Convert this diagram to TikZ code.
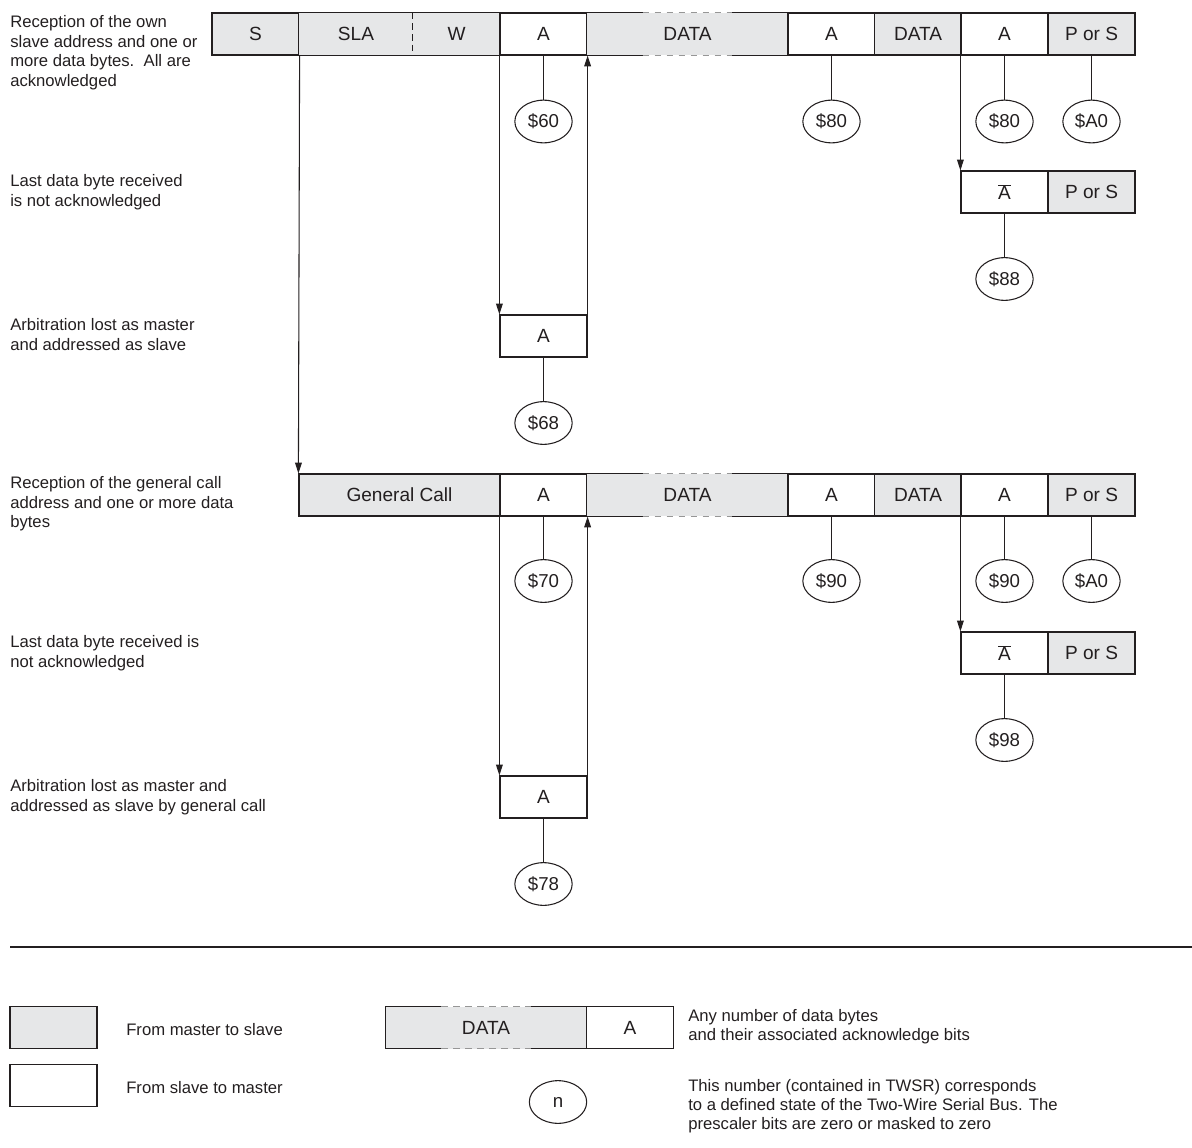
\documentclass[tikz,border=0pt]{standalone}
\usepackage{fontspec}
\setmainfont{Liberation Sans}
\usetikzlibrary{shapes.geometric,arrows.meta}
\definecolor{cellgray}{RGB}{230,231,232}
\definecolor{celledge}{RGB}{35,31,32}
\definecolor{gapgray}{RGB}{150,150,150}

\begin{document}
\begin{tikzpicture}[x=0.75pt,y=0.75pt,yscale=-1,xscale=1,
  cell/.style={minimum height=31.5pt,minimum width=65.25pt,inner sep=0pt,text=celledge,font=\fontsize{14.3}{16}\selectfont},
  mcell/.style={cell,draw=celledge,line width=0.9pt,fill=cellgray},
  scell/.style={cell,draw=celledge,line width=0.9pt,fill=white},
  gapcell/.style={cell,fill=cellgray,minimum width=150.75pt},
  state/.style={ellipse,draw=celledge,line width=0.8pt,minimum width=43pt,minimum height=32pt,inner sep=0pt,text=celledge,font=\fontsize{14}{16}\selectfont},
  edge/.style={draw=celledge,line width=0.9pt},
  gap/.style={draw=gapgray,line width=0.9pt,dash pattern=on 5pt off 4pt},
  tie/.style={draw=celledge,line width=0.8pt},
  flow/.style={draw=celledge,line width=0.8pt,-{Triangle[length=8pt,width=5pt]}},
  note/.style={anchor=north west,inner sep=0pt,align=left,text=celledge,font=\fontsize{12.5}{14.8}\selectfont},
  keynote/.style={note,font=\fontsize{12.5}{14.3}\selectfont}
]
\useasboundingbox (0,0) rectangle (1192,1148);

%Row: own slave address
\node[mcell] (sS) at (255.5,34) {S};
\node[cell,fill=cellgray,minimum width=85.5pt] (sSLA) at (356,34) {SLA};
\node[cell,fill=cellgray] (sW) at (456.5,34) {W};
\draw[edge] (sSLA.north west) rectangle (sW.south east);
\draw[edge,dash pattern=on 5pt off 3pt] (sW.north west) -- (sW.south west);
\node[scell] (sA1) at (543.5,34) {A};
\node[gapcell] (sDat1) at (687.5,34) {DATA};
\node[scell] (sA2) at (831.5,34) {A};
\node[mcell] (sDat2) at (918,34) {DATA};
\node[scell] (sA3) at (1004.5,34) {A};
\node[mcell] (sPS) at (1091.5,34) {P or S};

\node[state] (s60) at (543.5,121.5) {\$60};
\node[state] (s80a) at (831.5,121.5) {\$80};
\node[state] (s80b) at (1004.5,121.5) {\$80};
\node[state] (sA0) at (1091.5,121.5) {\$A0};

%Row: last byte not acknowledged
\node[scell] (nA1) at (1004.5,192) {$\overline{\mbox{A}}$};
\node[mcell] (nPS1) at (1091.5,192) {P or S};
\node[state] (s88) at (1004.5,279) {\$88};

%Row: arbitration lost
\node[scell] (lA1) at (543.5,336) {A};
\node[state] (s68) at (543.5,423) {\$68};

%Row: general call
\node[mcell,minimum width=150.75pt] (gCall) at (399.5,495) {General Call};
\node[scell] (gA1) at (543.5,495) {A};
\node[gapcell] (gDat1) at (687.5,495) {DATA};
\node[scell] (gA2) at (831.5,495) {A};
\node[mcell] (gDat2) at (918,495) {DATA};
\node[scell] (gA3) at (1004.5,495) {A};
\node[mcell] (gPS) at (1091.5,495) {P or S};

\node[state] (s70) at (543.5,581) {\$70};
\node[state] (s90a) at (831.5,581) {\$90};
\node[state] (s90b) at (1004.5,581) {\$90};
\node[state] (sA0g) at (1091.5,581) {\$A0};

\node[scell] (nA2) at (1004.5,653) {$\overline{\mbox{A}}$};
\node[mcell] (nPS2) at (1091.5,653) {P or S};
\node[state] (s98) at (1004.5,740) {\$98};

\node[scell] (lA2) at (543.5,797) {A};
\node[state] (s78) at (543.5,884) {\$78};

%Legend
\draw[edge] (10,947) -- (1192,947);
\node[mcell] (keyM) at (53.5,1027.5) {};
\node[scell] (keyS) at (53.5,1085.5) {};
\node[gapcell] (keyDat) at (486,1027.5) {DATA};
\node[scell] (keyA) at (630,1027.5) {A};
\node[state] (keyN) at (558,1102) {n};

%DATA cells with open top and bottom
\foreach \d in {sDat1,gDat1,keyDat}{
  \draw[edge] (\d.north west) ++(56,0) -- (\d.north west) -- (\d.south west) -- ++(56,0);
  \draw[edge] (\d.north east) ++(-56,0) -- (\d.north east) -- (\d.south east) -- ++(-56,0);
  \draw[gap] ([xshift=42pt]\d.north west) -- ([xshift=-42pt]\d.north east);
  \draw[gap] ([xshift=42pt]\d.south west) -- ([xshift=-42pt]\d.south east);
}

%Connectors
\draw[tie] (sA1.south) -- (s60.north);
\draw[tie] (sA2.south) -- (s80a.north);
\draw[tie] (sA3.south) -- (s80b.north);
\draw[tie] (sPS.south) -- (sA0.north);
\draw[tie] (nA1.south) -- (s88.north);
\draw[tie] (lA1.south) -- (s68.north);
\draw[tie] (gA1.south) -- (s70.north);
\draw[tie] (gA2.south) -- (s90a.north);
\draw[tie] (gA3.south) -- (s90b.north);
\draw[tie] (gPS.south) -- (sA0g.north);
\draw[tie] (nA2.south) -- (s98.north);
\draw[tie] (lA2.south) -- (s78.north);

\draw[flow] (sS.south east) -- (gCall.north west);
\draw[flow] (sA1.south west) -- (lA1.north west);
\draw[flow] (lA1.north east) -- (sA1.south east);
\draw[flow] (sA3.south west) -- (nA1.north west);
\draw[flow] (gA1.south west) -- (lA2.north west);
\draw[flow] (lA2.north east) -- (gA1.south east);
\draw[flow] (gA3.south west) -- (nA2.north west);

% Text Node
\node[note] (tOwn) at (10,15) {Reception of the own\\slave address and one or\\more data bytes.\ \ All are\\acknowledged};
% Text Node
\node[note] (tNack1) at (10,174) {Last data byte received\\is not acknowledged};
% Text Node
\node[note] (tLost1) at (10,318) {Arbitration lost as master\\and addressed as slave};
% Text Node
\node[note] (tGen) at (10,476) {Reception of the general call\\address and one or more data\\bytes};
% Text Node
\node[note] (tNack2) at (10,635) {Last data byte received is\\not acknowledged};
% Text Node
\node[note] (tLost2) at (10,779) {Arbitration lost as master and\\addressed as slave by general call};
% Text Node
\node[keynote] (tKeyM) at (126,1023) {From master to slave};
% Text Node
\node[keynote] (tKeyS) at (126,1081) {From slave to master};
% Text Node
\node[keynote] (tKeyDat) at (688,1009) {Any number of data bytes\\and their associated acknowledge bits};
% Text Node
\node[keynote] (tKeyN) at (688,1079) {This number (contained in TWSR) corresponds\\to a defined state of the Two-Wire Serial Bus. The\\prescaler bits are zero or masked to zero};

\end{tikzpicture}
\end{document}
